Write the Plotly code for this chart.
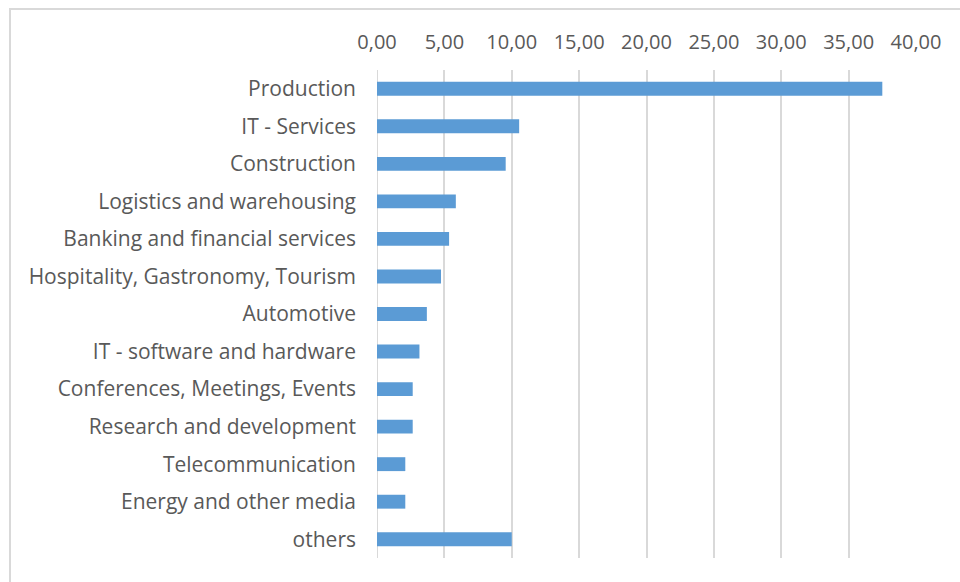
import plotly.graph_objects as go

# Share by sector (%)
sectors = [
    "Production",
    "IT - Services",
    "Construction",
    "Logistics and warehousing",
    "Banking and financial services",
    "Hospitality, Gastronomy, Tourism",
    "Automotive",
    "IT - software and hardware",
    "Conferences, Meetings, Events",
    "Research and development",
    "Telecommunication",
    "Energy and other media",
    "others",
]
shares = [37.5, 10.55, 9.55, 5.85, 5.35, 4.75, 3.7, 3.15, 2.65, 2.65, 2.1, 2.1, 10.0]
x_ticks = [0, 5, 10, 15, 20, 25, 30, 35, 40]

fig = go.Figure(
    go.Bar(
        y=sectors,
        x=shares,
        orientation="h",
        marker=dict(color="#5B9BD5", line=dict(width=0)),
        hoverinfo="x+y",
    )
)

font_family = "Open Sans, Liberation Sans, sans-serif"

fig.update_layout(
    width=960,
    height=582,
    margin=dict(l=377, r=44, t=70, b=24),
    paper_bgcolor="white",
    plot_bgcolor="white",
    separators=",.",
    bargap=0.63,
    showlegend=False,
    font=dict(family=font_family, size=20, color="#595959"),
    xaxis=dict(
        side="top",
        range=[0, 40],
        tickvals=x_ticks,
        tickformat=".2f",
        showgrid=True,
        gridcolor="#d9d9d9",
        gridwidth=2,
        zeroline=False,
        showline=False,
        ticks="",
        ticklabelstandoff=16,
        tickfont=dict(size=20, color="#595959"),
        fixedrange=True,
    ),
    yaxis=dict(
        autorange="reversed",
        showgrid=False,
        zeroline=False,
        showline=False,
        ticks="",
        ticklabelstandoff=20,
        tickfont=dict(size=21, color="#595959"),
        fixedrange=True,
    ),
    shapes=[
        dict(
            type="rect",
            xref="paper",
            yref="paper",
            x0=(10 - 377) / 539,
            x1=1.2,
            y0=-0.2,
            y1=(558 - 9) / 488,
            line=dict(color="#d9d9d9", width=2),
            fillcolor="rgba(0,0,0,0)",
            layer="below",
        ),
        dict(
            type="line",
            xref="x",
            yref="paper",
            x0=0,
            x1=0,
            y0=0,
            y1=1,
            line=dict(color="#d9d9d9", width=2),
            layer="below",
        ),
    ],
)

fig.write_html("out.html")
